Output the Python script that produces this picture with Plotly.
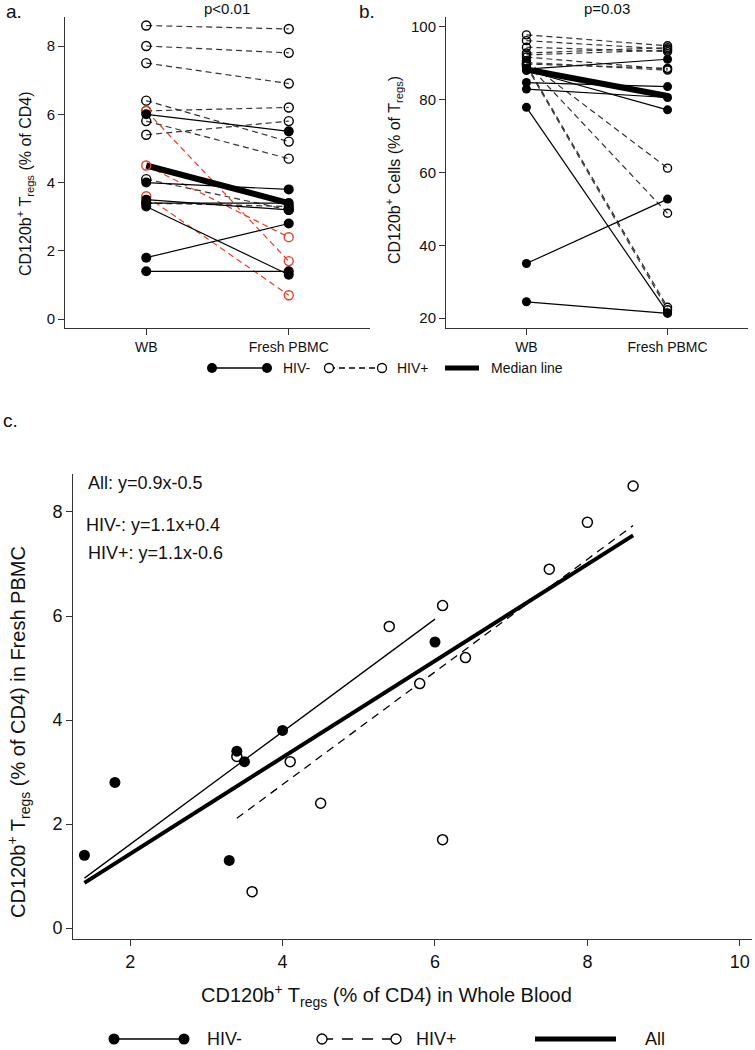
import plotly.graph_objects as go

# ---- panel a: CD120b+ Tregs (% of CD4), WB vs fresh PBMC ----
neg_a_wb = [6.0, 4.0, 3.5, 3.4, 3.3, 1.8, 1.4]
neg_a_pbmc = [5.5, 3.8, 3.2, 3.4, 1.3, 2.8, 1.4]
pos_a_wb = [8.6, 8.0, 7.5, 6.4, 6.1, 5.8, 5.4, 4.1, 3.4]
pos_a_pbmc = [8.5, 7.8, 6.9, 5.2, 6.2, 4.7, 5.8, 3.2, 3.3]
red_a_wb = [6.1, 4.5, 3.6]
red_a_pbmc = [1.7, 2.4, 0.7]
median_a = [4.5, 3.4]

# ---- panel b: CD120b+ cells (% of Tregs) ----
neg_b_wb = [88.4, 84.7, 82.9, 88.0, 77.9, 35.0, 24.5]
neg_b_pbmc = [91.1, 83.6, 80.6, 77.2, 21.5, 52.7, 21.3]
pos_b_wb = [97.8, 96.2, 94.4, 92.8, 91.7, 90.2, 90.6, 90.0, 89.6, 89.2, 92.3, 89.8]
pos_b_pbmc = [94.8, 93.9, 93.2, 94.3, 88.4, 88.1, 61.2, 48.8, 23.0, 22.3, 93.6, 88.6]
median_b = [88.3, 81.0]

# ---- panel c: fitted lines ----
fit_all_x, fit_all_y = [1.4, 8.6], [0.87, 7.55]
fit_neg_x, fit_neg_y = [1.4, 6.0], [0.96, 5.94]
fit_pos_x, fit_pos_y = [3.4, 8.6], [2.11, 7.74]

visits = [1, 2]
visit_labels = ["WB", "Fresh PBMC"]

W, H = 755, 1050
FONT = "Liberation Sans, Arial, Helvetica, sans-serif"
RED = "#e5402a"
AX = "#333333"
DASH = "6px,4px"


def fx(px):
    return px / W


def fy(py):
    return 1 - py / H


def pairs(wb, pbmc):
    xs, ys = [], []
    for a, b in zip(wb, pbmc):
        xs += [visits[0], visits[1], None]
        ys += [a, b, None]
    return xs, ys


def both(wb, pbmc):
    return [visits[0]] * len(wb) + [visits[1]] * len(pbmc), list(wb) + list(pbmc)


fig = go.Figure()


def paired_panel(xa, ya, neg_wb, neg_pb, pos_wb, pos_pb, med, msize, red_wb=None, red_pb=None):
    x, y = pairs(pos_wb, pos_pb)
    fig.add_trace(go.Scatter(x=x, y=y, mode="lines", xaxis=xa, yaxis=ya,
                             line=dict(color=AX, width=1.2, dash=DASH)))
    if red_wb:
        x, y = pairs(red_wb, red_pb)
        fig.add_trace(go.Scatter(x=x, y=y, mode="lines", xaxis=xa, yaxis=ya,
                                 line=dict(color=RED, width=1.2, dash=DASH)))
    x, y = pairs(neg_wb, neg_pb)
    fig.add_trace(go.Scatter(x=x, y=y, mode="lines", xaxis=xa, yaxis=ya,
                             line=dict(color="black", width=1.2)))
    fig.add_trace(go.Scatter(x=visits, y=med, mode="lines", xaxis=xa, yaxis=ya,
                             line=dict(color="black", width=6)))
    x, y = both(pos_wb, pos_pb)
    fig.add_trace(go.Scatter(x=x, y=y, mode="markers", xaxis=xa, yaxis=ya, cliponaxis=False,
                             marker=dict(symbol="circle-open", size=msize - 1, color="black",
                                         line=dict(width=1.4))))
    if red_wb:
        x, y = both(red_wb, red_pb)
        fig.add_trace(go.Scatter(x=x, y=y, mode="markers", xaxis=xa, yaxis=ya, cliponaxis=False,
                                 marker=dict(symbol="circle-open", size=msize - 1, color=RED,
                                             line=dict(width=1.4))))
    x, y = both(neg_wb, neg_pb)
    fig.add_trace(go.Scatter(x=x, y=y, mode="markers", xaxis=xa, yaxis=ya, cliponaxis=False,
                             marker=dict(symbol="circle", size=msize, color="black")))


paired_panel("x", "y", neg_a_wb, neg_a_pbmc, pos_a_wb, pos_a_pbmc, median_a, 10, red_a_wb, red_a_pbmc)
paired_panel("x2", "y2", neg_b_wb, neg_b_pbmc, pos_b_wb, pos_b_pbmc, median_b, 9)

# panel c scatter + fits
fig.add_trace(go.Scatter(x=fit_neg_x, y=fit_neg_y, mode="lines", xaxis="x3", yaxis="y3",
                         line=dict(color="black", width=1.3)))
fig.add_trace(go.Scatter(x=fit_pos_x, y=fit_pos_y, mode="lines", xaxis="x3", yaxis="y3",
                         line=dict(color="black", width=1.3, dash="8px,6px")))
fig.add_trace(go.Scatter(x=fit_all_x, y=fit_all_y, mode="lines", xaxis="x3", yaxis="y3",
                         line=dict(color="black", width=4)))
fig.add_trace(go.Scatter(x=pos_a_wb + red_a_wb, y=pos_a_pbmc + red_a_pbmc, mode="markers",
                         xaxis="x3", yaxis="y3", cliponaxis=False,
                         marker=dict(symbol="circle", size=10, color="white",
                                     line=dict(color="black", width=1.5))))
fig.add_trace(go.Scatter(x=neg_a_wb, y=neg_a_pbmc, mode="markers", xaxis="x3", yaxis="y3",
                         cliponaxis=False, marker=dict(symbol="circle", size=11, color="black")))


# legend samples on an invisible pixel-space overlay axis
def legend_item(x0, x1, yy, kind, size, dash=DASH):
    if kind == "neg":
        fig.add_trace(go.Scatter(x=[x0, x1], y=[yy, yy], mode="lines+markers", xaxis="x4", yaxis="y4",
                                 line=dict(color="black", width=1.3),
                                 marker=dict(symbol="circle", size=size, color="black")))
    elif kind == "pos":
        fig.add_trace(go.Scatter(x=[x0, x1], y=[yy, yy], mode="lines+markers", xaxis="x4", yaxis="y4",
                                 line=dict(color="black", width=1.3, dash=dash),
                                 marker=dict(symbol="circle", size=size - 1, color="white",
                                             line=dict(color="black", width=1.3))))
    else:
        fig.add_trace(go.Scatter(x=[x0, x1], y=[yy, yy], mode="lines", xaxis="x4", yaxis="y4",
                                 line=dict(color="black", width=5)))


legend_item(212, 267, 368, "neg", 10)
legend_item(329, 382, 368, "pos", 10)
legend_item(445, 479, 368, "all", 0)
legend_item(114, 184, 1039, "neg", 11)
legend_item(322, 396, 1039, "pos", 11, "11px,9px")
legend_item(535, 616, 1039, "all", 0)

axis_common = dict(showline=True, linecolor=AX, linewidth=1, ticks="outside", ticklen=6,
                   tickcolor=AX, showgrid=False, zeroline=False, tickfont=dict(size=14, color="#111"))

annotations = []


def note(text, px, py, size, xanchor="center", angle=0):
    annotations.append(dict(text=text, x=fx(px), y=fy(py), xref="paper", yref="paper",
                            xanchor=xanchor, yanchor="middle", showarrow=False, textangle=angle,
                            font=dict(size=size, color="#111")))


note("a.", 4, 11, 19, "left")
note("b.", 357, 11, 19, "left")
note("c.", 1, 420, 19, "left")
note("p<0.01", 227, 9, 15)
note("p=0.03", 607, 9, 15)
note("CD120b<sup>+</sup> T<sub>regs</sub> (% of CD4)", 25, 184, 16, angle=-90)
note("CD120b<sup>+</sup> Cells (% of T<sub>regs</sub>)", 394, 170, 16, angle=-90)
note("HIV-", 281, 368, 14, "left")
note("HIV+", 395, 368, 14, "left")
note("Median line", 489, 368, 14, "left")
note("All: y=0.9x-0.5", 86, 483, 18, "left")
note("HIV-: y=1.1x+0.4", 84, 525, 18, "left")
note("HIV+: y=1.1x-0.6", 86, 553, 18, "left")
note("CD120b<sup>+</sup> T<sub>regs</sub> (% of CD4) in Fresh PBMC", 18, 732, 20, angle=-90)
note("CD120b<sup>+</sup> T<sub>regs</sub> (% of CD4) in Whole Blood", 386, 995, 20)
note("HIV-", 205, 1039, 18, "left")
note("HIV+", 414, 1039, 18, "left")
note("All", 643, 1039, 18, "left")

fig.update_layout(
    width=W, height=H,
    margin=dict(l=0, r=0, t=0, b=0),
    paper_bgcolor="white", plot_bgcolor="rgba(0,0,0,0)",
    font=dict(family=FONT, color="#111"),
    showlegend=False,
    annotations=annotations,
    xaxis=dict(axis_common, domain=[fx(65), fx(370)], range=[0.43, 2.57], anchor="y",
               tickvals=visits, ticktext=visit_labels),
    yaxis=dict(axis_common, domain=[fy(328), fy(17)], range=[-0.26, 8.85], anchor="x",
               tickvals=[0, 2, 4, 6, 8], tickfont=dict(size=15, color="#111")),
    xaxis2=dict(axis_common, domain=[fx(446), fx(748)], range=[0.43, 2.57], anchor="y2",
                tickvals=visits, ticktext=visit_labels),
    yaxis2=dict(axis_common, domain=[fy(328), fy(17)], range=[17.3, 102.7], anchor="x2",
                tickvals=[20, 40, 60, 80, 100], tickfont=dict(size=15, color="#111")),
    xaxis3=dict(axis_common, domain=[fx(73), fx(752)], range=[1.25, 10.16], anchor="y3",
                tickvals=[2, 4, 6, 8, 10], tickfont=dict(size=18, color="#111")),
    yaxis3=dict(axis_common, domain=[fy(939), fy(474)], range=[-0.21, 8.73], anchor="x3",
                tickvals=[0, 2, 4, 6, 8], tickfont=dict(size=18, color="#111")),
    xaxis4=dict(domain=[0, 1], range=[0, W], visible=False, anchor="y4", fixedrange=True),
    yaxis4=dict(domain=[0, 1], range=[H, 0], visible=False, anchor="x4", fixedrange=True),
)
for tr in fig.data:
    tr.showlegend = False
    tr.hoverinfo = "skip"

# drop the browser's default 8px body margin so the figure sits at the page corner
fig.write_html("out.html", config={"displayModeBar": False},
               post_script="document.body.style.margin='0';")
